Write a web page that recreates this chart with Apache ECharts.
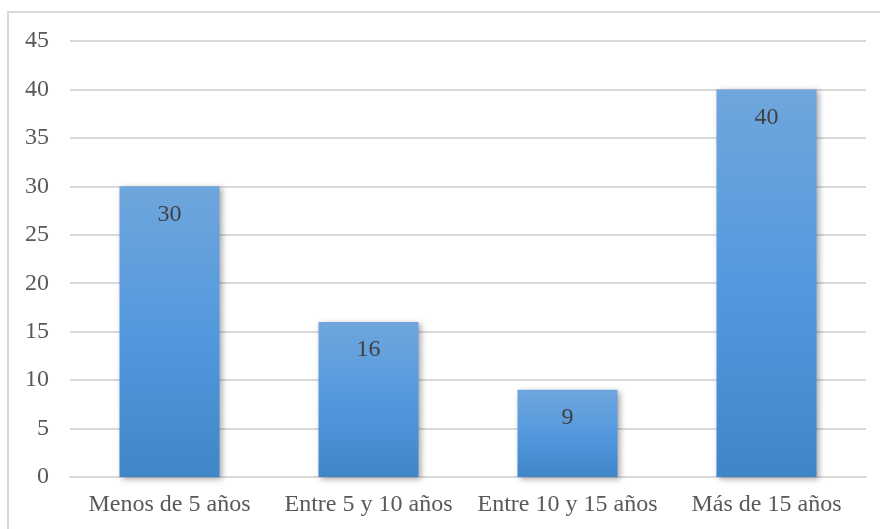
<!DOCTYPE html>
<html>
<head>
<meta charset="utf-8">
<script src="https://cdn.jsdelivr.net/npm/echarts@6/dist/echarts.min.js"></script>
<style>
	html, body { margin: 0; padding: 0; background: #fff; }
	#frame { position: absolute; left: 7px; top: 11px; width: 900px; height: 600px; border: 2px solid #d9d9d9; box-sizing: border-box; }
	#main { position: absolute; left: 0; top: 0; width: 880px; height: 529px; }
</style>
</head>
<body>
<div id="frame"></div>
<div id="main"></div>
<script>
	// categorias y valores
	var categories = ['Menos de 5 años', 'Entre 5 y 10 años', 'Entre 10 y 15 años', 'Más de 15 años'];
	var values = [30, 16, 9, 40];

	var myChart = echarts.init(document.getElementById('main'));
	var font = '"Liberation Serif", "Times New Roman", serif';

	var option = {
		animation: false,
		grid: {
			top: 41,
			right: 14,
			bottom: 52,
			left: 70
		},
		xAxis: {
			type: 'category',
			data: categories,
			axisTick: { show: false },
			axisLine: {
				lineStyle: { color: '#d9d9d9', width: 2 }
			},
			axisLabel: {
				interval: 0,
				hideOverlap: false,
				color: '#595959',
				fontSize: 24,
				fontFamily: font,
				margin: 16
			}
		},
		yAxis: {
			type: 'value',
			min: 0,
			max: 45,
			interval: 5,
			axisLine: { show: false },
			axisTick: { show: false },
			axisLabel: {
				color: '#595959',
				fontSize: 24,
				fontFamily: font,
				margin: 21
			},
			splitLine: {
				lineStyle: { color: '#d9d9d9', width: 2 }
			}
		},
		series: [{
			type: 'bar',
			data: values,
			barWidth: 100,
			itemStyle: {
				color: new echarts.graphic.LinearGradient(0, 0, 0, 1, [
					{ offset: 0, color: '#6fa6dc' },
					{ offset: 0.5, color: '#5499de' },
					{ offset: 1, color: '#3f86c8' }
				]),
				shadowBlur: 6,
				shadowColor: 'rgba(0,0,0,0.35)',
				shadowOffsetX: 2,
				shadowOffsetY: 2
			},
			label: {
				show: true,
				position: 'insideTop',
				distance: 16,
				color: '#404040',
				fontSize: 24,
				fontFamily: font
			}
		}]
	};
	myChart.setOption(option);
</script>
</body>
</html>
